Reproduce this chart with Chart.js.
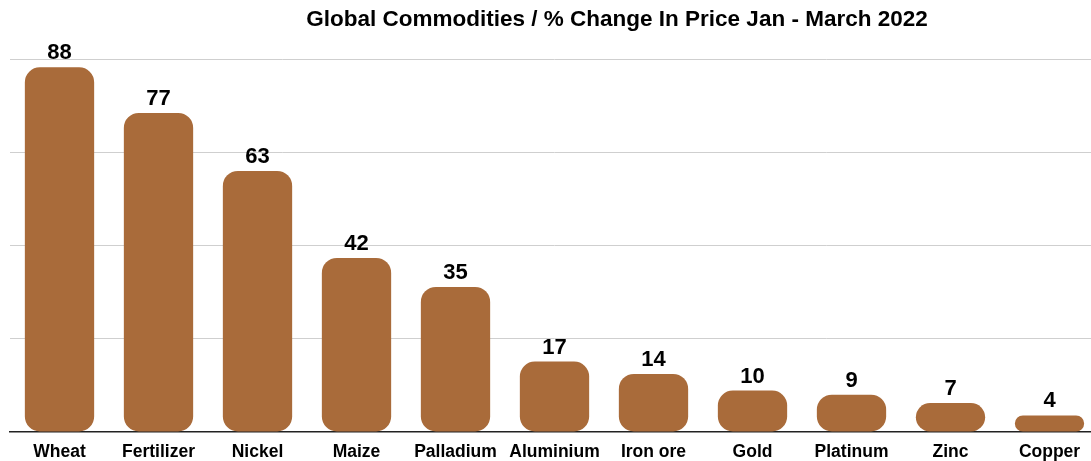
<!DOCTYPE html>
<html lang="en">
<head>
    <meta charset="UTF-8">
    <title>Global Commodities</title>
    <script src="https://cdn.jsdelivr.net/npm/chart.js"></script>
    <style>
        html, body { margin: 0; padding: 0; background: #fff; overflow: hidden; }
        .caixa { width: 1091px; height: 461px; overflow: hidden; position: relative; }
        .caixa canvas { position: absolute; left: 0; top: 0; }
    </style>
</head>
<body>
<div class="caixa">
    <canvas id="myChart" width="1100" height="473"></canvas>
</div>

<script>
    const titulo = 'Global Commodities / % Change In Price Jan - March 2022';
    const categorias = ['Wheat', 'Fertilizer', 'Nickel', 'Maize', 'Palladium', 'Aluminium', 'Iron ore', 'Gold', 'Platinum', 'Zinc', 'Copper'];
    const valores = [88, 77, 63, 42, 35, 17, 14, 10, 9, 7, 4];
    const fonte = '"Liberation Sans", Arial, Helvetica, sans-serif';

    // rotulos de valor em cima das barras + titulo deslocado
    const rotulos = {
        id: 'rotulos',
        afterDatasetsDraw(chart) {
            const ctx = chart.ctx;
            const meta = chart.getDatasetMeta(0);
            ctx.save();
            ctx.fillStyle = '#000';
            ctx.font = 'bold 22px ' + fonte;
            ctx.textAlign = 'center';
            ctx.textBaseline = 'alphabetic';
            meta.data.forEach((bar, i) => {
                ctx.fillText(valores[i], bar.x, bar.y - 8);
            });
            ctx.font = 'bold 22.5px ' + fonte;
            ctx.fillText(titulo, 617, 26);
            ctx.restore();
        }
    };

    new Chart(document.getElementById('myChart'), {
        type: 'bar',
        data: {
            labels: categorias,
            datasets: [{
                data: valores,
                backgroundColor: '#A96B3A',
                borderRadius: 15,
                borderSkipped: false,
                barPercentage: 0.7,
                categoryPercentage: 1
            }]
        },
        options: {
            responsive: false,
            animation: false,
            layout: { padding: { left: 10, right: 1, top: 59, bottom: 0 } },
            plugins: {
                legend: { display: false },
                tooltip: { enabled: false },
                title: { display: false }
            },
            scales: {
                x: {
                    grid: { display: false, drawTicks: false },
                    border: { display: true, color: '#222', width: 1.5 },
                    ticks: { color: '#000', padding: 10, font: { family: fonte, size: 17.5, weight: 'bold' } }
                },
                y: {
                    min: 0,
                    max: 90,
                    ticks: { display: false, stepSize: 22.5 },
                    border: { display: false },
                    grid: {
                        drawTicks: false,
                        color: c => c.tick.value === 0 ? 'rgba(0,0,0,0)' : '#cfcfcf'
                    }
                }
            }
        },
        plugins: [rotulos]
    });
</script>
</body>
</html>
